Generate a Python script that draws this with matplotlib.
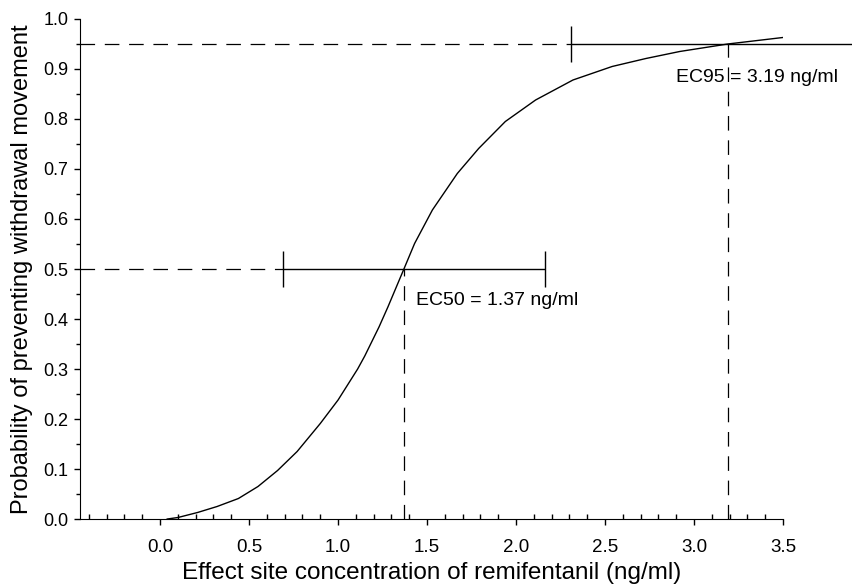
import matplotlib
matplotlib.use('Agg')
import matplotlib.pyplot as plt
from matplotlib.ticker import MultipleLocator, FormatStrFormatter

# values
conc = [0.04, 0.10, 0.21, 0.32, 0.44, 0.55, 0.66, 0.77, 0.90, 1.00, 1.11, 1.15,
        1.23, 1.28, 1.37, 1.43, 1.53, 1.67, 1.79, 1.94, 2.11, 2.32, 2.54, 2.73,
        2.92, 3.19, 3.50]
prob = [0.000, 0.003, 0.013, 0.025, 0.041, 0.065, 0.097, 0.135, 0.191, 0.238,
        0.300, 0.326, 0.384, 0.424, 0.500, 0.551, 0.618, 0.691, 0.741, 0.795,
        0.838, 0.878, 0.905, 0.921, 0.935, 0.950, 0.963]

ec_levels = [0.5, 0.95]
ec_values = [1.37, 3.19]
ec_lower = [0.69, 2.31]
ec_upper = [2.16, 4.07]
ec_labels = ['EC50 = 1.37 ng/ml', 'EC95 = 3.19 ng/ml']

plt.rcParams['font.family'] = ['Liberation Sans', 'DejaVu Sans']
plt.rcParams['lines.scale_dashes'] = False

fig = plt.figure(figsize=(8.52, 5.86), dpi=100)
ax = fig.add_axes([0.0939, 0.1143, 0.8251, 0.8533])

xmin, xmax = -0.45, 3.5
dash = (10.5, 7)

ax.plot(conc, prob, color='black', lw=1.0)

for lev, val, lo, hi in zip(ec_levels, ec_values, ec_lower, ec_upper):
    eb = ax.errorbar([val], [lev], xerr=[[val - lo], [hi - val]], fmt='none',
                     ecolor='black', elinewidth=1.0, capsize=13, capthick=1.0)
    for art in list(eb.lines[1]) + list(eb.lines[2]):
        art.set_clip_on(False)
    ax.plot([xmin, lo], [lev, lev], color='black', lw=0.9, dashes=dash)
    ax.plot([val, val], [0, lev], color='black', lw=0.9, dashes=dash)

ax.text(1.44, 0.438, ec_labels[0], fontsize=14, va='center', ha='left')
ax.text(2.90, 0.882, ec_labels[1], fontsize=14, va='center', ha='left')

ax.set_xlim(xmin, xmax)
ax.set_ylim(0, 1.0)
ax.spines['top'].set_visible(False)
ax.spines['right'].set_visible(False)

ax.xaxis.set_minor_locator(MultipleLocator(0.1))
ax.yaxis.set_major_locator(MultipleLocator(0.1))
ax.yaxis.set_minor_locator(MultipleLocator(0.05))
ax.xaxis.set_major_formatter(FormatStrFormatter('%.1f'))
ax.yaxis.set_major_formatter(FormatStrFormatter('%.1f'))
ax.set_xticks([0.0, 0.5, 1.0, 1.5, 2.0, 2.5, 3.0, 3.5])

ax.tick_params(axis='x', which='major', direction='out', length=4.5, width=1, labelsize=13.5, pad=10)
ax.tick_params(axis='x', which='minor', direction='in', length=3.5, width=1)
ax.tick_params(axis='y', which='major', direction='out', length=4.5, width=1, labelsize=13, pad=4)
ax.tick_params(axis='y', which='minor', direction='out', length=3, width=1)

ax.set_xlabel('Effect site concentration of remifentanil (ng/ml)', fontsize=17.5, labelpad=4)
ax.set_ylabel('Probability of preventing withdrawal movement', fontsize=17)
ax.yaxis.set_label_coords(-0.067, 0.5)

fig.savefig('out.png', dpi=100)
